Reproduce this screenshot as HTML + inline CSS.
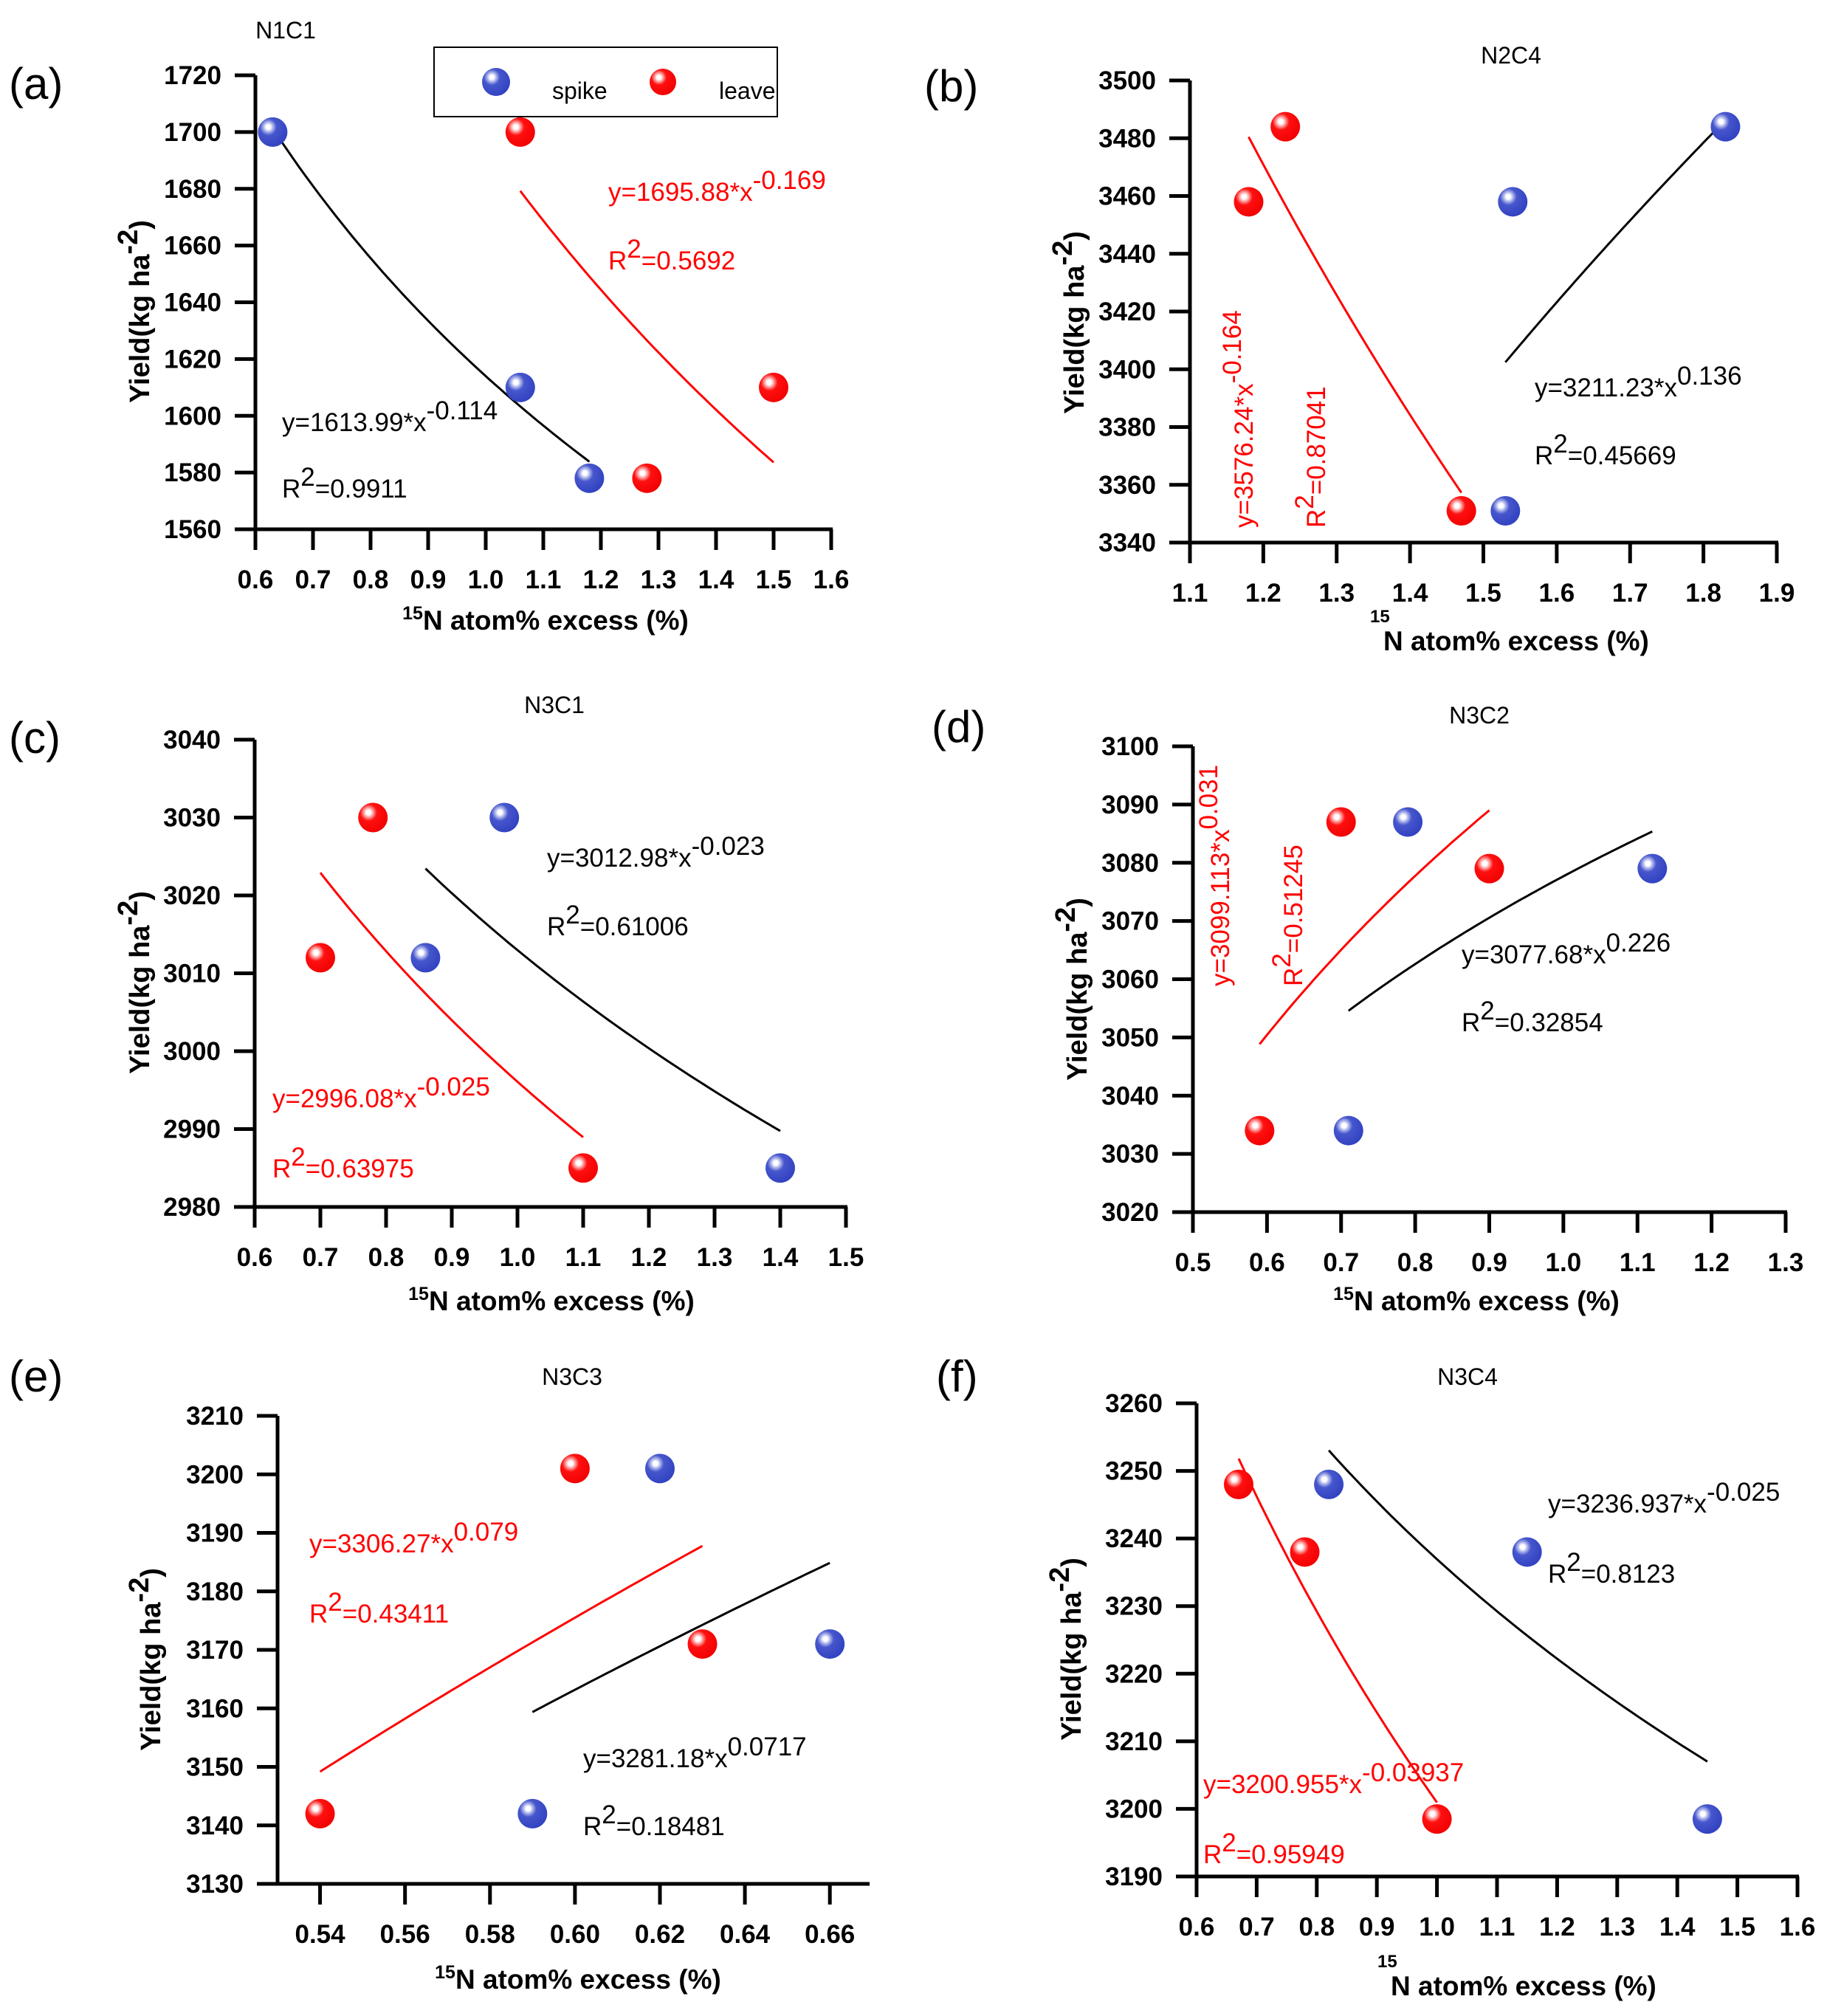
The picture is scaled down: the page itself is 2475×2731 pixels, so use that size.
<!DOCTYPE html>
<html><head><meta charset="utf-8">
<style>
html,body{margin:0;padding:0;background:#fff;}
svg{display:block;}
text{font-family:"Liberation Sans",sans-serif;}
.tick{font-size:35px;font-weight:bold;}
.eq{font-size:35px;}
.ttl{font-size:32px;}
.pl{font-size:60px;}
.yt{font-size:38px;font-weight:bold;}
.xt{font-size:37px;font-weight:bold;}
</style></head>
<body>
<svg id="fig" width="2475" height="2731" viewBox="0 0 2475 2731" xmlns="http://www.w3.org/2000/svg">
<defs>
<radialGradient id="gBlue" cx="0.35" cy="0.33" r="0.75">
<stop offset="0" stop-color="#ffffff"/><stop offset="0.1" stop-color="#ffffff"/><stop offset="0.22" stop-color="#aab2ea"/><stop offset="0.38" stop-color="#4656cc"/><stop offset="1" stop-color="#2f40c0"/>
</radialGradient>
<radialGradient id="gRed" cx="0.35" cy="0.33" r="0.75">
<stop offset="0" stop-color="#ffffff"/><stop offset="0.1" stop-color="#ffffff"/><stop offset="0.22" stop-color="#ff9a9a"/><stop offset="0.38" stop-color="#ff1010"/><stop offset="1" stop-color="#f00000"/>
</radialGradient>
</defs>
</svg>
<script>
// ---- data ----
const panelIds = ['a','b','c','d','e','f'];
const panelTitles = ['N1C1','N2C4','N3C1','N3C2','N3C3','N3C4'];
const spikeX_a = [0.63, 1.06, 1.18];   const spikeY_a = [1700, 1610, 1578];
const leaveX_a = [1.06, 1.28, 1.5];    const leaveY_a = [1700, 1578, 1610];
const spikeX_b = [1.53, 1.54, 1.83];   const spikeY_b = [3351, 3458, 3484];
const leaveX_b = [1.18, 1.23, 1.47];   const leaveY_b = [3458, 3484, 3351];
const spikeX_c = [0.86, 0.98, 1.4];    const spikeY_c = [3012, 3030, 2985];
const leaveX_c = [0.7, 0.78, 1.1];     const leaveY_c = [3012, 3030, 2985];
const spikeX_d = [0.71, 0.79, 1.12];   const spikeY_d = [3034, 3087, 3079];
const leaveX_d = [0.59, 0.7, 0.9];     const leaveY_d = [3034, 3087, 3079];
const spikeX_e = [0.59, 0.62, 0.66];   const spikeY_e = [3142, 3201, 3171];
const leaveX_e = [0.54, 0.6, 0.63];    const leaveY_e = [3142, 3201, 3171];
const spikeX_f = [0.82, 1.15, 1.45];   const spikeY_f = [3248, 3238, 3198.5];
const leaveX_f = [0.67, 0.78, 1.0];    const leaveY_f = [3248, 3238, 3198.5];
// power fits y = A * x^B (drawn coefficients), range of x
const spikeFitA = [1613.99, 3211.23, 3012.98, 3077.68, 3281.18, 3236.937];
const spikeFitB = [-0.114, 0.136, -0.023, 0.022, 0.0717, -0.025];
const spikeFitX0 = [0.63, 1.53, 0.86, 0.71, 0.59, 0.82];
const spikeFitX1 = [1.18, 1.83, 1.4, 1.12, 0.66, 1.45];
const leaveFitA = [1695.88, 3576.24, 2996.08, 3099.113, 3306.27, 3200.955];
const leaveFitB = [-0.169, -0.164, -0.025, 0.031, 0.079, -0.03937];
const leaveFitX0 = [1.06, 1.18, 0.7, 0.59, 0.54, 0.67];
const leaveFitX1 = [1.5, 1.47, 1.1, 0.9, 0.63, 1.0];
// axis ranges and ticks
const xTicks_a = ['0.6','0.7','0.8','0.9','1.0','1.1','1.2','1.3','1.4','1.5','1.6'];
const yTicks_a = [1560,1580,1600,1620,1640,1660,1680,1700,1720];
const xTicks_b = ['1.1','1.2','1.3','1.4','1.5','1.6','1.7','1.8','1.9'];
const yTicks_b = [3340,3360,3380,3400,3420,3440,3460,3480,3500];
const xTicks_c = ['0.6','0.7','0.8','0.9','1.0','1.1','1.2','1.3','1.4','1.5'];
const yTicks_c = [2980,2990,3000,3010,3020,3030,3040];
const xTicks_d = ['0.5','0.6','0.7','0.8','0.9','1.0','1.1','1.2','1.3'];
const yTicks_d = [3020,3030,3040,3050,3060,3070,3080,3090,3100];
const xTicks_e = ['0.54','0.56','0.58','0.60','0.62','0.64','0.66'];
const yTicks_e = [3130,3140,3150,3160,3170,3180,3190,3200,3210];
const xTicks_f = ['0.6','0.7','0.8','0.9','1.0','1.1','1.2','1.3','1.4','1.5','1.6'];
const yTicks_f = [3190,3200,3210,3220,3230,3240,3250,3260];
const xDomains = [[0.6,1.6],[1.1,1.9],[0.6,1.5],[0.5,1.3],[0.53,0.669],[0.6,1.6]];
const yDomains = [[1560,1720],[3340,3500],[2980,3040],[3020,3100],[3130,3210],[3190,3260]];
const spikeEq = [['y=1613.99*x','-0.114'],['y=3211.23*x','0.136'],['y=3012.98*x','-0.023'],['y=3077.68*x','0.226'],['y=3281.18*x','0.0717'],['y=3236.937*x','-0.025']];
const spikeR2 = ['0.9911','0.45669','0.61006','0.32854','0.18481','0.8123'];
const leaveEq = [['y=1695.88*x','-0.169'],['y=3576.24*x','-0.164'],['y=2996.08*x','-0.025'],['y=3099.113*x','0.031'],['y=3306.27*x','0.079'],['y=3200.955*x','-0.03937']];
const leaveR2 = ['0.5692','0.87041','0.63975','0.51245','0.43411','0.95949'];

// ---- layout (pixels) ----
const layout = [
 {L:346,R:1126,T:102,B:717, title:[387,52], pl:[12,134], yt:[190,410], xt:[739,853], sEq:[382,584,674], lEq:[824,272,365], lRot:false},
 {L:1612,R:2407,T:109,B:735, title:[2047,86], pl:[1252,137], yt:[1456,425], xt:[1874,881,'split'], sEq:[2079,537,629], lEq:[1685,1783,715], lRot:true},
 {L:345,R:1146,T:1002,B:1635, title:[751,966], pl:[12,1020], yt:[190,1319], xt:[747,1775], sEq:[741,1174,1267], lEq:[369,1500,1595], lRot:false},
 {L:1616,R:2419,T:1011,B:1642, title:[2004,980], pl:[1262,1005], yt:[1460,1328], xt:[2000,1775], sEq:[1980,1305,1397], lEq:[1653,1752,1336], lRot:true},
 {L:376,R:1176,T:1918,B:2552, title:[775,1876], pl:[12,1885], yt:[205,2236], xt:[783,2694], sEq:[790,2394,2486], lEq:[419,2103,2198], lRot:false},
 {L:1621,R:2435,T:1901,B:2542, title:[1988,1876], pl:[1268,1885], yt:[1452,2222], xt:[1884,2703,'split'], sEq:[2097,2049,2144], lEq:[1630,2429,2524], lRot:false}
];
const NS='http://www.w3.org/2000/svg';
const svg=document.getElementById('fig');
function mk(tag, attrs, parent){const e=document.createElementNS(NS,tag);for(const k in attrs)e.setAttribute(k,attrs[k]);(parent||svg).appendChild(e);return e;}
function eqText(g,x,y,base,sup,color,rot){
  const t=mk('text',{x:x,y:y,class:'eq',fill:color},g);
  if(rot)t.setAttribute('transform','rotate(-90 '+x+' '+y+')');
  t.appendChild(document.createTextNode(base));
  const s=mk('tspan',{dy:-16},t);s.textContent=sup;
  return t;
}
function r2Text(g,x,y,val,color,rot){
  const t=mk('text',{x:x,y:y,class:'eq',fill:color},g);
  if(rot)t.setAttribute('transform','rotate(-90 '+x+' '+y+')');
  t.appendChild(document.createTextNode('R'));
  const s=mk('tspan',{dy:-16},t);s.textContent='2';
  const r=mk('tspan',{dy:16},t);r.textContent='='+val;
  return t;
}
const allX={a:[spikeX_a,leaveX_a],b:[spikeX_b,leaveX_b],c:[spikeX_c,leaveX_c],d:[spikeX_d,leaveX_d],e:[spikeX_e,leaveX_e],f:[spikeX_f,leaveX_f]};
const allY={a:[spikeY_a,leaveY_a],b:[spikeY_b,leaveY_b],c:[spikeY_c,leaveY_c],d:[spikeY_d,leaveY_d],e:[spikeY_e,leaveY_e],f:[spikeY_f,leaveY_f]};
const allXT={a:xTicks_a,b:xTicks_b,c:xTicks_c,d:xTicks_d,e:xTicks_e,f:xTicks_f};
const allYT={a:yTicks_a,b:yTicks_b,c:yTicks_c,d:yTicks_d,e:yTicks_e,f:yTicks_f};

panelIds.forEach((id,i)=>{
  const P=layout[i];
  const g=mk('g',{});
  
  
  const xd=xDomains[i], yd=yDomains[i];
  const sx=v=>P.L+(v-xd[0])/(xd[1]-xd[0])*(P.R-P.L);
  const sy=v=>P.B-(v-yd[0])/(yd[1]-yd[0])*(P.B-P.T);
  const ya=mk('line',{x1:P.L,y1:P.T,x2:P.L,y2:P.B+2,stroke:'#000','stroke-width':5},g);
  
  
  const xa=mk('line',{x1:P.L-28,y1:P.B,x2:P.R+2,y2:P.B,stroke:'#000','stroke-width':5},g);
  
  
  allYT[id].forEach(v=>{
    const y=sy(v);
    mk('line',{x1:P.L-28,y1:y,x2:P.L,y2:y,stroke:'#000','stroke-width':5},g);
    const t=mk('text',{x:P.L-46,y:y+12,class:'tick','text-anchor':'end'},g);
    
    
    t.textContent=v;
  });
  allXT[id].forEach(s=>{
    const x=sx(parseFloat(s));
    mk('line',{x1:x,y1:P.B,x2:x,y2:P.B+28,stroke:'#000','stroke-width':5},g);
    const t=mk('text',{x:x,y:P.B+80,class:'tick','text-anchor':'middle'},g);
    
    
    t.textContent=s;
  });
  function fitPath(A,B,x0,x1,color,name){
    let d='';
    for(let k=0;k<=60;k++){const x=x0+(x1-x0)*k/60;const y=A*Math.pow(x,B);d+=(k?'L':'M')+sx(x).toFixed(1)+' '+sy(y).toFixed(1);}
    const p=mk('path',{d:d,fill:'none',stroke:color,'stroke-width':3},g);
    
    
  }
  fitPath(spikeFitA[i],spikeFitB[i],spikeFitX0[i],spikeFitX1[i],'#000','spike-fit-curve');
  fitPath(leaveFitA[i],leaveFitB[i],leaveFitX0[i],leaveFitX1[i],'#ff0000','leave-fit-curve');
  const [sX,lX]=allX[id],[sY,lY]=allY[id];
  sX.forEach((x,k)=>{const c=mk('ellipse',{cx:sx(x),cy:sy(sY[k]),rx:20,ry:20,fill:'url(#gBlue)'},g);
    
    });
  lX.forEach((x,k)=>{const c=mk('ellipse',{cx:sx(x),cy:sy(lY[k]),rx:20,ry:20,fill:'url(#gRed)'},g);
    
    });
  const se=eqText(g,P.sEq[0],P.sEq[1],spikeEq[i][0],spikeEq[i][1],'#000',false);
  
  
  const sr=r2Text(g,P.sEq[0],P.sEq[2],spikeR2[i],'#000',false);
  
  
  let le,lr;
  if(P.lRot){
    le=eqText(g,P.lEq[0]+12,P.lEq[2],leaveEq[i][0],leaveEq[i][1],'#ff0000',true);
    lr=r2Text(g,P.lEq[1]+12,P.lEq[2],leaveR2[i],'#ff0000',true);
  } else {
    le=eqText(g,P.lEq[0],P.lEq[1],leaveEq[i][0],leaveEq[i][1],'#ff0000',false);
    lr=r2Text(g,P.lEq[0],P.lEq[2],leaveR2[i],'#ff0000',false);
  }
  
  
  
  
  const tt=mk('text',{x:P.title[0],y:P.title[1],class:'ttl','text-anchor':'middle'},g);
  
  
  tt.textContent=panelTitles[i];
  const pl=mk('text',{x:P.pl[0],y:P.pl[1],class:'pl'},g);
  
  
  pl.textContent='('+id+')';
  const yt=mk('text',{x:P.yt[0],y:P.yt[1],class:'yt','text-anchor':'middle',transform:'rotate(-90 '+(P.yt[0]+12)+' '+P.yt[1]+')'},g);
  
  
  yt.appendChild(document.createTextNode('Yield(kg ha'));
  const ys=mk('tspan',{dy:-16},yt);ys.textContent='-2';
  const ye=mk('tspan',{dy:16},yt);ye.textContent=')';
  let xt;
  if(P.xt[2]==='split'){
    xt=mk('text',{x:P.xt[0],y:P.xt[1],class:'xt'},g);
    const sup=mk('text',{x:P.xt[0]-18,y:P.xt[1]-38,'font-size':'24','font-weight':'bold'},g);
    sup.textContent='15';
    xt.textContent='N atom% excess (%)';
  } else {
    xt=mk('text',{x:P.xt[0],y:P.xt[1],class:'xt','text-anchor':'middle'},g);
    const s=mk('tspan',{dy:-14,'font-size':'25'},xt);s.textContent='15';
    const r=mk('tspan',{dy:14},xt);r.textContent='N atom% excess (%)';
  }
  
  
});
const lg=mk('g',{});


mk('rect',{x:588,y:64,width:465,height:94,fill:'#fff',stroke:'#000','stroke-width':2},lg);
const lb=mk('ellipse',{cx:672,cy:111,rx:19,ry:19,fill:'url(#gBlue)'},lg);


const lt1=mk('text',{x:748,y:134,'font-size':'32'},lg);lt1.textContent='spike';


const lr2=mk('ellipse',{cx:898,cy:111,rx:18,ry:18,fill:'url(#gRed)'},lg);


const lt2=mk('text',{x:974,y:134,'font-size':'32'},lg);lt2.textContent='leave';


</script>
</body></html>
